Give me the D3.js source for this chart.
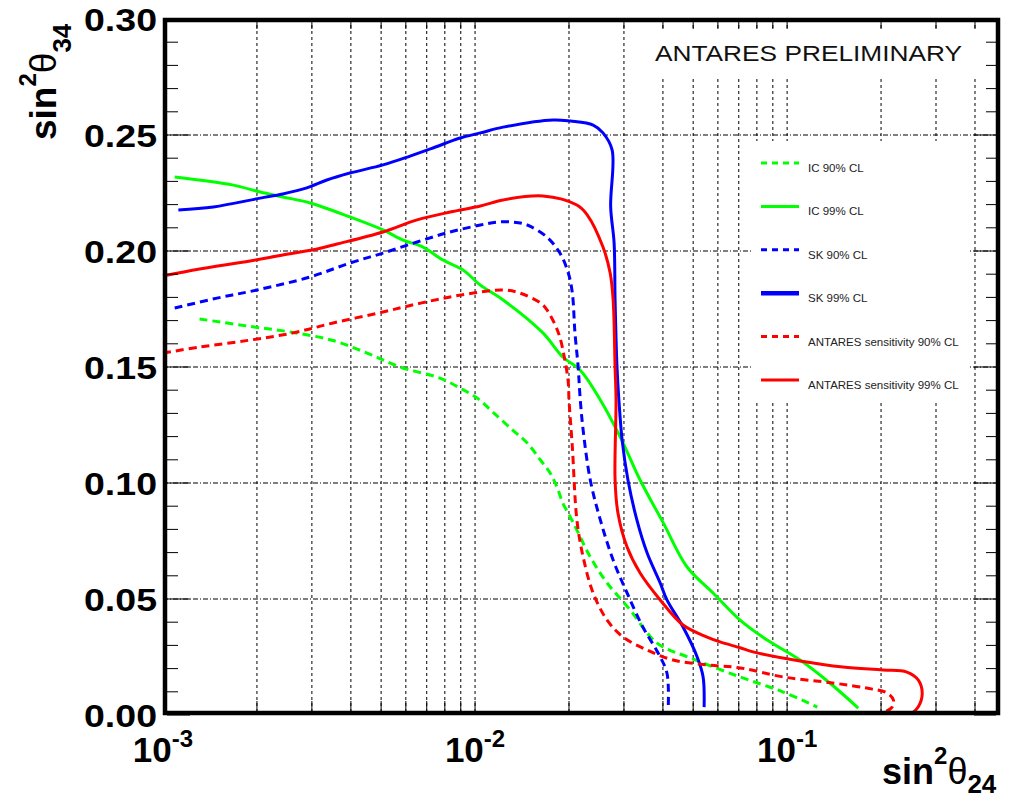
<!DOCTYPE html>
<html>
<head>
<meta charset="utf-8">
<script src="https://cdn.jsdelivr.net/npm/d3@7"></script>
<style>
body { margin: 0; background: #fff; }
svg { display: block; font-family: "Liberation Sans", Arial, Helvetica, sans-serif; }
</style>
</head>
<body>
<script>
// curves: [sin2theta24, sin2theta34]
var icCL90 = [[1.31e-3,0.1707],[1.90e-3,0.1675],[2.61e-3,0.1649],[3.51e-3,0.1614],[4.51e-3,0.156],[5.75e-3,0.150],
  [7.72e-3,0.1452],[8.95e-3,0.1409],[1.015e-2,0.1366],[1.14e-2,0.1306],[1.32e-2,0.1228],[1.47e-2,0.1172],[1.62e-2,0.1099],
  [1.74e-2,0.1043],[1.83e-2,0.0983],[1.91e-2,0.0914],[2.02e-2,0.0853],[2.12e-2,0.0797],[2.34e-2,0.0681],[2.65e-2,0.0569],
  [3.14e-2,0.0453],[3.83e-2,0.0310],[4.89e-2,0.0246],[7.07e-2,0.0164],[9.71e-2,0.0099],[1.25e-1,0.0034]];

var icCL99 = [[1.09e-3,0.2319],[1.68e-3,0.2284],[2.05e-3,0.2254],[2.42e-3,0.2233],[2.96e-3,0.2207],[3.97e-3,0.2147],
  [5.07e-3,0.2091],[5.88e-3,0.2047],[6.81e-3,0.2017],[7.89e-3,0.1961],[9.15e-3,0.1918],[1.04e-2,0.1853],[1.23e-2,0.1789],
  [1.65e-2,0.1647],[1.91e-2,0.1543],[2.17e-2,0.1487],[2.52e-2,0.1358],[2.92e-2,0.1198],[3.38e-2,0.1013],[4.01e-2,0.0828],
  [4.78e-2,0.0638],[5.79e-2,0.0526],[7.07e-2,0.0409],[8.63e-2,0.0323],[1.10e-1,0.0237],[1.37e-1,0.0138],[1.69e-1,0.003]];

var skCL90 = [[1.09e-3,0.1754],[1.49e-3,0.1797],[2.0e-3,0.1832],[2.96e-3,0.1888],[3.97e-3,0.1948],[5.07e-3,0.1991],
  [6.52e-3,0.2039],[8.32e-3,0.2082],[1.04e-2,0.2112],[1.18e-2,0.2125],[1.32e-2,0.2125],[1.47e-2,0.2112],[1.70e-2,0.2060],
  [1.87e-2,0.1991],[1.99e-2,0.1905],[2.05e-2,0.1819],[2.09e-2,0.1647],[2.14e-2,0.150],[2.17e-2,0.1371],[2.22e-2,0.1228],
  [2.34e-2,0.1013],[2.52e-2,0.0841],[2.77e-2,0.0668],[3.07e-2,0.0526],[3.45e-2,0.0379],[3.86e-2,0.0267],[4.12e-2,0.0181],
  [4.16e-2,0.0034]];

var skCL99 = [[1.12e-3,0.2177],[1.45e-3,0.219],[2.05e-3,0.2228],[2.42e-3,0.2246],[2.89e-3,0.2272],[3.35e-3,0.2306],
  [3.97e-3,0.2336],[5.07e-3,0.2371],[6.19e-3,0.2409],[7.33e-3,0.2444],[8.95e-3,0.2487],[1.04e-2,0.2509],[1.23e-2,0.2534],
  [1.78e-2,0.2565],[2.02e-2,0.256],[2.39e-2,0.2543],[2.57e-2,0.2509],[2.75e-2,0.2435],[2.72e-2,0.219],[2.79e-2,0.2034],
  [2.81e-2,0.1789],[2.85e-2,0.150],[2.89e-2,0.1358],[2.96e-2,0.1185],[3.09e-2,0.1013],[3.30e-2,0.0841],[3.56e-2,0.0698],
  [3.92e-2,0.0569],[4.12e-2,0.0496],[4.64e-2,0.0379],[5.15e-2,0.0250],[5.38e-2,0.0164],[5.42e-2,0.0034]];

var antCL90 = [[1.0e-3,0.156],[1.31e-3,0.1586],[1.90e-3,0.1616],[2.61e-3,0.1647],[3.51e-3,0.169],[5.07e-3,0.1737],
  [6.52e-3,0.1772],[8.32e-3,0.1802],[1.04e-2,0.1823],[1.23e-2,0.1832],[1.39e-2,0.1819],[1.62e-2,0.1776],[1.70e-2,0.1746],
  [1.85e-2,0.1647],[1.94e-2,0.153],[1.99e-2,0.1431],[2.0e-2,0.1358],[2.05e-2,0.1155],[2.12e-2,0.0841],[2.22e-2,0.0681],
  [2.39e-2,0.0526],[2.65e-2,0.0409],[2.98e-2,0.0336],[3.56e-2,0.028],[4.31e-2,0.0237],[5.54e-2,0.0216],[7.07e-2,0.0203],
  [9.71e-2,0.0164],[1.40e-1,0.0138],[1.80e-1,0.0116],[2.09e-1,0.0095],[2.19e-1,0.0065],[2.17e-1,0.0034],[2.03e-1,0.0009]];

var antCL99 = [[1.0e-3,0.1892],[1.31e-3,0.1922],[1.90e-3,0.1957],[2.42e-3,0.1983],[3.12e-3,0.2009],[3.61e-3,0.2030],
  [5.07e-3,0.2082],[6.52e-3,0.2134],[8.32e-3,0.2168],[1.04e-2,0.2194],[1.23e-2,0.2220],[1.65e-2,0.2237],[2.12e-2,0.2198],
  [2.29e-2,0.2155],[2.57e-2,0.2017],[2.71e-2,0.1905],[2.77e-2,0.1789],[2.81e-2,0.150],[2.83e-2,0.1358],[2.81e-2,0.1013],
  [2.87e-2,0.0871],[3.07e-2,0.0724],[3.38e-2,0.0612],[3.92e-2,0.0496],[4.64e-2,0.0388],[5.54e-2,0.0336],[6.10e-2,0.0315],
  [7.07e-2,0.029],[7.78e-2,0.0272],[1.10e-1,0.0233],[1.51e-1,0.0207],[2.03e-1,0.0194],[2.42e-1,0.0185],[2.63e-1,0.0151],
  [2.71e-1,0.0095],[2.63e-1,0.0034],[2.52e-1,0.0009]];

var legendLabels = ["IC 90% CL", "IC 99% CL", "SK 90% CL", "SK 99% CL",
  "ANTARES sensitivity 90% CL", "ANTARES sensitivity 99% CL"];
var xDecades = [1e-3, 1e-2, 1e-1];
var xDecadeExp = ["-3", "-2", "-1"];
var yMajor = [0, 0.05, 0.10, 0.15, 0.20, 0.25, 0.30];
var xMax = 0.474;

var series = [
  {data: icCL90, color: "#00ff00", dash: "8,5"},
  {data: icCL99, color: "#00ff00", dash: null},
  {data: skCL90, color: "#0000ff", dash: "8,5"},
  {data: skCL99, color: "#0000ff", dash: null},
  {data: antCL90, color: "#ff0000", dash: "8,5"},
  {data: antCL99, color: "#ff0000", dash: null}
];

var width = 1009, height = 799;
var svg = d3.select("body").append("svg")
  .attr("width", width)
  .attr("height", height);

var x = d3.scaleLog().domain([1e-3, xMax]).range([163, 998]);
var y = d3.scaleLinear().domain([0, 0.30]).range([715, 19]);

//grid
svg.append("g")
  .selectAll("line")
  .data(x.ticks().filter(d => d > 1.001e-3))
  .enter()
  .append("line")
  .attr("x1", d => x(d)).attr("x2", d => x(d))
  .attr("y1", y(0.30)).attr("y2", y(0))
  .attr("stroke", "#000")
  .attr("stroke-width", 1)
  .attr("stroke-dasharray", "3,3");

svg.append("g")
  .selectAll("line")
  .data(yMajor.filter(d => d > 0 && d < 0.3))
  .enter()
  .append("line")
  .attr("x1", x(1e-3)).attr("x2", x(xMax))
  .attr("y1", d => y(d)).attr("y2", d => y(d))
  .attr("stroke", "#000")
  .attr("stroke-width", 1)
  .attr("stroke-dasharray", "5,2,1,2");

//white boxes of the label and legend
svg.append("rect").attr("x", 640).attr("y", 28).attr("width", 345).attr("height", 49).attr("fill", "#fff");
svg.append("rect").attr("x", 752).attr("y", 141).attr("width", 217).attr("height", 260).attr("fill", "#fff");

//curves
var line = d3.line()
  .x(d => x(d[0]))
  .y(d => y(d[1]))
  .curve(d3.curveCatmullRom.alpha(0.5));

svg.append("g")
  .selectAll("path")
  .data(series)
  .enter()
  .append("path")
  .attr("d", d => line(d.data))
  .attr("fill", "none")
  .attr("stroke", d => d.color)
  .attr("stroke-width", 3)
  .attr("stroke-dasharray", d => d.dash);

//frame
svg.append("rect")
  .attr("x", x(1e-3) + 2)
  .attr("y", y(0.30) + 1)
  .attr("width", x(xMax) - x(1e-3) - 2)
  .attr("height", y(0) - y(0.30) - 3)
  .attr("fill", "none")
  .attr("stroke", "#000")
  .attr("stroke-width", 4.5);

//ticks
var yMinor = d3.range(0, 31).map(i => i / 100);
var isMajor = d => Math.round(d * 100) % 5 === 0;
svg.append("g")
  .selectAll("line")
  .data(yMinor)
  .enter()
  .append("line")
  .attr("x1", x(1e-3) + 4).attr("x2", d => x(1e-3) + (isMajor(d) ? 27 : 15))
  .attr("y1", d => y(d)).attr("y2", d => y(d))
  .attr("stroke", "#000").attr("stroke-width", 1);
svg.append("g")
  .selectAll("line")
  .data(yMinor)
  .enter()
  .append("line")
  .attr("x1", x(xMax) - 2).attr("x2", d => x(xMax) - (isMajor(d) ? 24 : 12))
  .attr("y1", d => y(d)).attr("y2", d => y(d))
  .attr("stroke", "#000").attr("stroke-width", 1);

var xt = x.ticks().filter(d => d > 1.001e-3);
svg.append("g")
  .selectAll("line")
  .data(xt)
  .enter()
  .append("line")
  .attr("x1", d => x(d)).attr("x2", d => x(d))
  .attr("y1", y(0) - 4).attr("y2", y(0) - 14)
  .attr("stroke", "#000").attr("stroke-width", 1);
svg.append("g")
  .selectAll("line")
  .data(xt)
  .enter()
  .append("line")
  .attr("x1", d => x(d)).attr("x2", d => x(d))
  .attr("y1", y(0.30) + 2).attr("y2", y(0.30) + 10)
  .attr("stroke", "#000").attr("stroke-width", 1);

//tick labels
svg.append("g")
  .selectAll("text")
  .data(yMajor)
  .enter()
  .append("text")
  .attr("x", 157)
  .attr("y", d => y(d) + 11.5)
  .attr("text-anchor", "end")
  .attr("font-weight", "bold")
  .attr("font-size", 32)
  .attr("textLength", 73)
  .attr("lengthAdjust", "spacingAndGlyphs")
  .text(d => d3.format(".2f")(d));

var xl = svg.append("g")
  .selectAll("text")
  .data(xDecades)
  .enter()
  .append("text")
  .attr("x", d => x(d))
  .attr("y", 762)
  .attr("text-anchor", "middle")
  .attr("font-weight", "bold")
  .attr("font-size", 35);
xl.append("tspan").text("10");
xl.append("tspan").attr("font-size", 24).attr("dy", -15).text((d, i) => xDecadeExp[i]);

//axis titles
function title(sel, sub, subDrop) {
  sel.append("tspan").text("sin");
  sel.append("tspan").attr("font-size", 24).attr("dy", -20).text("2");
  sel.append("tspan").attr("font-weight", "normal").attr("dy", 20).text("θ");
  sel.append("tspan").attr("font-size", 26).attr("dy", subDrop).text(sub);
}
svg.append("text")
  .attr("transform", "translate(56,140) rotate(-90)")
  .attr("font-weight", "bold")
  .attr("font-size", 37)
  .call(title, "34", 15);
svg.append("text")
  .attr("x", 882)
  .attr("y", 784)
  .attr("font-weight", "bold")
  .attr("font-size", 36)
  .call(title, "24", 9);

svg.append("text")
  .attr("x", 655)
  .attr("y", 61)
  .attr("font-size", 22)
  .attr("textLength", 307)
  .attr("lengthAdjust", "spacingAndGlyphs")
  .attr("fill", "#111")
  .text("ANTARES PRELIMINARY");

//legend
var leg = svg.append("g")
  .selectAll("g")
  .data(series)
  .enter()
  .append("g")
  .attr("transform", (d, i) => "translate(761," + (163 + i * 43.4) + ")");
leg.append("line")
  .attr("x1", 0).attr("x2", 38)
  .attr("stroke", d => d.color)
  .attr("stroke-width", (d, i) => i === 3 ? 4.5 : 3)
  .attr("stroke-dasharray", d => d.dash ? "6,5" : null);
leg.append("text")
  .attr("x", 47)
  .attr("y", 9)
  .attr("font-size", 11.5)
  .attr("fill", "#222")
  .text((d, i) => legendLabels[i]);
</script>
</body>
</html>
